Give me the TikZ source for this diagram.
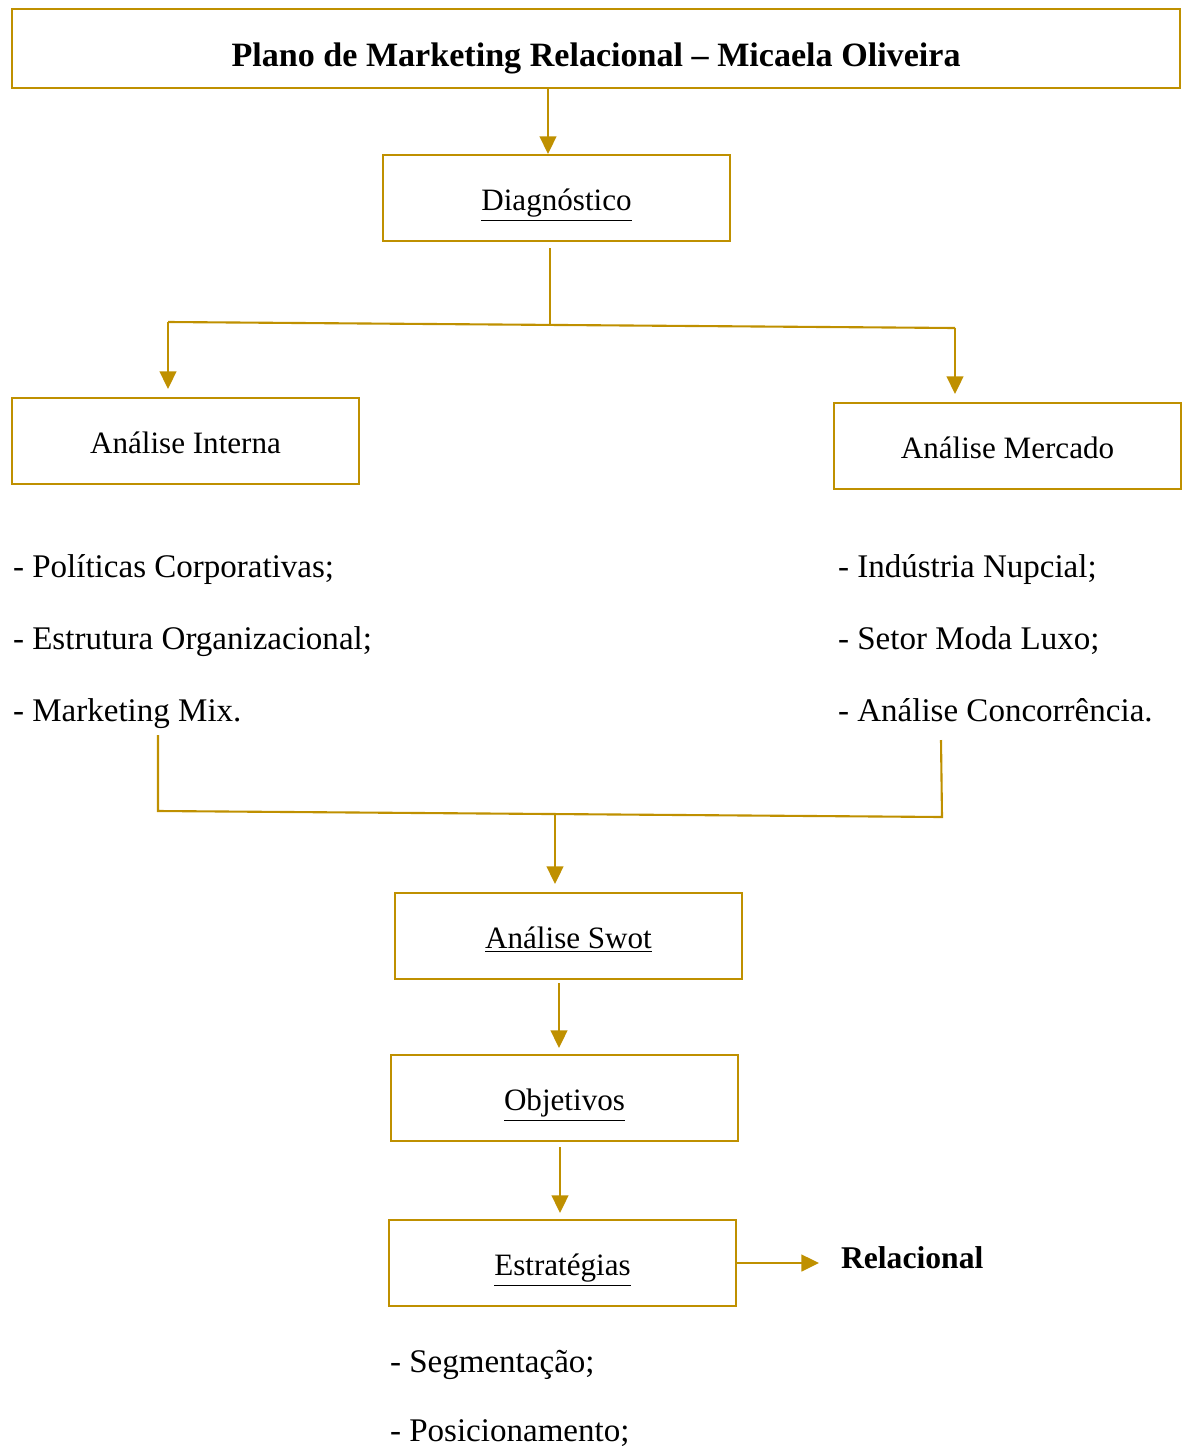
\documentclass[tikz,border=0pt]{standalone}
\usepackage{fontspec}
\setmainfont{Liberation Serif}
\usetikzlibrary{positioning,arrows.meta}
\definecolor{gold}{RGB}{191,144,0}

\begin{document}
\begin{tikzpicture}[x=0.02cm, y=-0.02cm, line width=1.2pt]
	\useasboundingbox (0,0) rectangle (1181,1450);
	\tikzset{box/.style={draw=gold, minimum width=6.94cm, minimum height=1.72cm, text height=15pt, text depth=0.4pt, font=\fontsize{17.7}{20}\selectfont},
		item/.style={anchor=west, inner sep=0pt, text height=13pt, text depth=0.6pt, font=\fontsize{18.8}{22}\selectfont},
		line/.style={draw=gold},
		arr/.style={draw=gold, -{Triangle[length=10pt, width=9.5pt]}}}

	\node[box, minimum width=23.36cm, minimum height=1.58cm, text height=21pt, text depth=0.8pt, font=\bfseries\fontsize{19.4}{22}\selectfont] (plano) at (596,48.5) {Plano de Marketing Relacional -- Micaela Oliveira};
	\node[box] (diag) at (556.5,198) {\underline{Diagnóstico}};
	\node[box] (interna) at (185.5,441) {Análise Interna};
	\node[box] (mercado) at (1007.5,446) {Análise Mercado};

	\node[item] (pol) at (12,567) {- Políticas Corporativas;};
	\node[item] (estrut) at (12,639) {- Estrutura Organizacional;};
	\node[item] (mix) at (12,711) {- Marketing Mix.};
	\node[item] (nupcial) at (837,567) {- Indústria Nupcial;};
	\node[item] (luxo) at (837,639) {- Setor Moda Luxo;};
	\node[item] (conc) at (837,711) {- Análise Concorrência.};

	\node[box] (swot) at (568.5,936) {\underline{Análise Swot}};
	\node[box] (obj) at (564.5,1098) {\underline{Objetivos}};
	\node[box] (estr) at (562.5,1263) {\underline{Estratégias}};
	\node[anchor=west, inner sep=0pt, text height=12.5pt, text depth=0.6pt, font=\bfseries\fontsize{18}{21}\selectfont] (rel) at (840,1258) {Relacional};
	\node[item] (seg) at (389,1362) {- Segmentação;};
	\node[item] (pos) at (389,1431) {- Posicionamento;};

	% branch points
	\coordinate (dstem) at (550,248);
	\coordinate (dfork) at (550,324.5);
	\coordinate (lfork) at (168,322);
	\coordinate (rfork) at (955,328);
	\coordinate (lstem) at (158,735);
	\coordinate (lbase) at (158,811);
	\coordinate (rstem) at (941,740);
	\coordinate (rbase) at (942,817);
	\coordinate (sfork) at (555,815);

	\draw[arr] (plano.south -| 548,0) -- (diag.north -| 548,0);
	\draw[line] (dstem) -- (dfork);
	\draw[line] (lfork) -- (rfork);
	\draw[arr, shorten >=0.16cm] (lfork) -- (lfork |- interna.north);
	\draw[arr, shorten >=0.16cm] (rfork) -- (rfork |- mercado.north);

	\draw[line] (lstem) -- (lbase) -- (rbase) -- (rstem);
	\draw[arr, shorten >=0.16cm] (sfork) -- (sfork |- swot.north);
	\draw[arr, shorten <=0.06cm, shorten >=0.12cm] (swot.south -| 559,0) -- (obj.north -| 559,0);
	\draw[arr, shorten <=0.1cm, shorten >=0.12cm] (obj.south -| 560,0) -- (estr.north -| 560,0);
	\draw[arr, shorten >=0.42cm] (estr.east) -- (estr.east -| rel.west);
\end{tikzpicture}
\end{document}
